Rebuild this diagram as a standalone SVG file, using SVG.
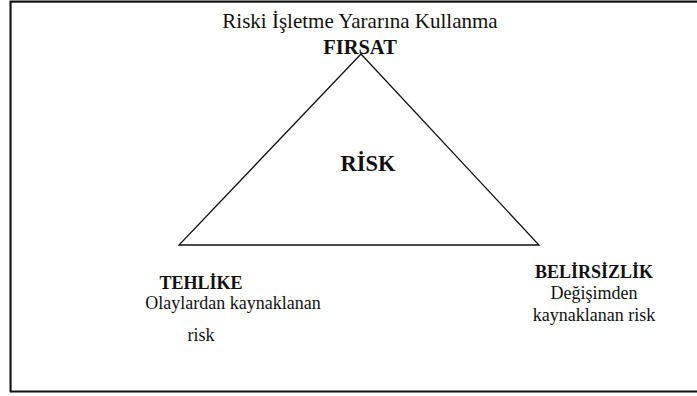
<svg xmlns="http://www.w3.org/2000/svg" width="697" height="396" viewBox="0 0 697 396">
<style>
text{font-family:"Liberation Serif","Times New Roman",serif;fill:#111;}
.t{font-size:21px;}
.f{font-size:20.5px;font-weight:bold;}
.b{font-size:18px;font-weight:bold;}
.n{font-size:18px;}
.r{font-size:22.5px;font-weight:bold;}
</style>
<rect x="0" y="0" width="697" height="396" fill="#fff"/>
<path d="M11,393 V2.5 H697" fill="none" stroke="#999" stroke-width="1"/>
<path d="M10.5,392 V1.5 H697 M10,391.5 H697" fill="none" stroke="#111" stroke-width="2"/>
<g id="connectors">
<polygon points="361,54 179,245 539,245" fill="none" stroke="#111" stroke-width="1.3"/>
</g>
<g id="title"><text class="t" x="360" y="28" text-anchor="middle">Riski İşletme Yararına Kullanma</text></g>
<g id="firsat"><text class="f" x="360" y="54" text-anchor="middle">FIRSAT</text></g>
<g id="risk"><text class="r" x="368" y="171" text-anchor="middle">RİSK</text></g>
<g id="tehlike">
<text class="b" x="201" y="289" text-anchor="middle">TEHLİKE</text>
<text class="n" x="233" y="309" text-anchor="middle">Olaylardan kaynaklanan</text>
<text class="n" x="201" y="341" text-anchor="middle">risk</text>
</g>
<g id="belirsizlik">
<text class="b" x="594" y="278" text-anchor="middle">BELİRSİZLİK</text>
<text class="n" x="594" y="299" text-anchor="middle">Değişimden</text>
<text class="n" x="594" y="321" text-anchor="middle">kaynaklanan risk</text>
</g>
</svg>
